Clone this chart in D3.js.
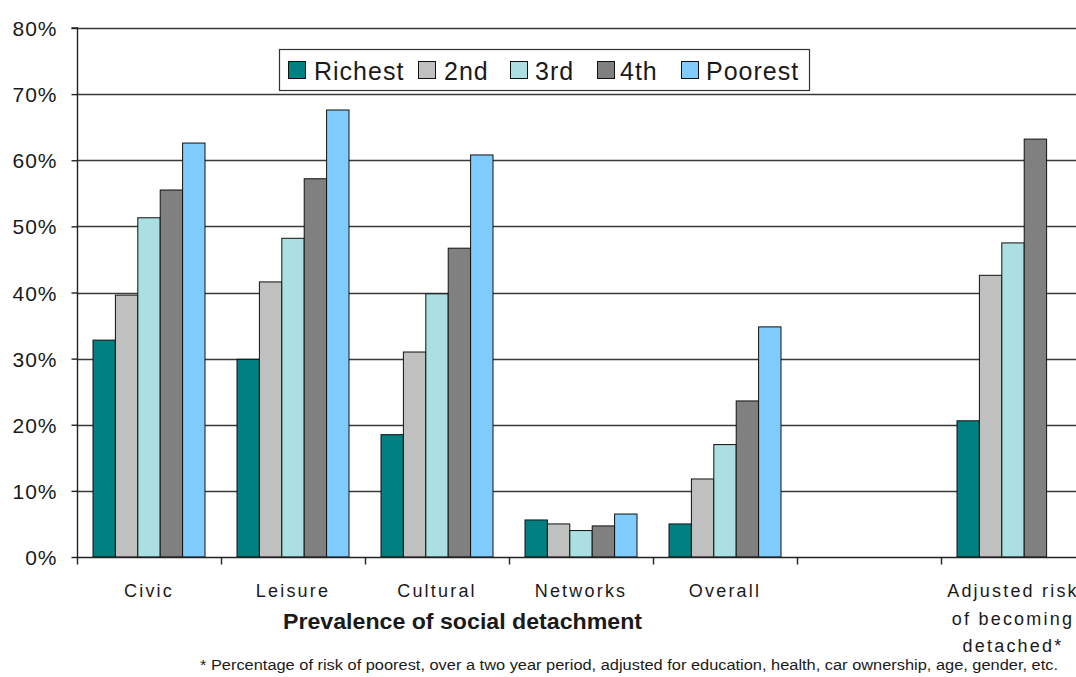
<!DOCTYPE html>
<html>
<head>
<meta charset="utf-8">
<script src="https://cdn.jsdelivr.net/npm/d3@7"></script>
<style>
  html, body { margin: 0; padding: 0; background: #fff; }
  svg { display: block; }
  text { font-family: "Liberation Sans", Arial, sans-serif; fill: #1a1a1a; }
</style>
</head>
<body>
<svg id="chart" width="1076" height="677"></svg>
<script>
// Categories ("|" splits a label over several lines; the blank one is an empty slot)
const categories = ["Civic", "Leisure", "Cultural", "Networks", "Overall", " ", "Adjusted risk|of becoming|detached*"];
const seriesNames = ["Richest", "2nd", "3rd", "4th", "Poorest"];
const seriesColors = ["#008080", "#c0c0c0", "#abdfe1", "#808080", "#80cbff"];

// Percent values per quintile (null = no bar)
const richest = [32.8, 29.9, 18.5, 5.6, 5.0, null, 20.6];
const second  = [39.6, 41.6, 31.0, 5.0, 11.8, null, 42.6];
const third   = [51.3, 48.2, 39.8, 4.0, 17.0, null, 47.5];
const fourth  = [55.5, 57.2, 46.7, 4.7, 23.6, null, 63.2];
const poorest = [62.6, 67.6, 60.8, 6.5, 34.8, null, null];

const yTicks = [0, 10, 20, 30, 40, 50, 60, 70, 80];
const xTitle = "Prevalence of social detachment";
const footnote = "* Percentage of risk of poorest, over  a two year period, adjusted for education, health, car ownership, age, gender, etc.";

const seriesValues = [richest, second, third, fourth, poorest];

const svg = d3.select("#chart");
const plotLeft = 77, plotTop = 28, plotBottom = 557;
const bandW = 144;

const x = d3.scaleBand()
  .domain(categories)
  .range([plotLeft, plotLeft + bandW * categories.length])
  .paddingInner(0).paddingOuter(0);

const xInner = d3.scaleBand()
  .domain(seriesNames)
  .range([16, bandW - 16])
  .padding(0);

const y = d3.scaleLinear().domain([0, 80]).range([plotBottom, plotTop]);

// Gridlines
svg.append("g")
  .selectAll("line")
  .data(yTicks.filter(d => d > 0))
  .join("line")
  .attr("x1", plotLeft).attr("x2", 1076)
  .attr("y1", d => Math.round(y(d)) + 0.5).attr("y2", d => Math.round(y(d)) + 0.5)
  .attr("stroke", "#3a3a3a").attr("stroke-width", 1.4);

// Bars
const barData = [];
categories.forEach((c, i) => {
  seriesNames.forEach((s, j) => {
    const v = seriesValues[j][i];
    if (v != null) barData.push({ c, s, v, color: seriesColors[j] });
  });
});

svg.append("g")
  .selectAll("rect")
  .data(barData)
  .join("rect")
  .attr("x", d => x(d.c) + xInner(d.s))
  .attr("y", d => y(d.v))
  .attr("width", xInner.bandwidth())
  .attr("height", d => y(0) - y(d.v))
  .attr("fill", d => d.color)
  .attr("stroke", "#111")
  .attr("stroke-width", 1);

// Y axis
const yAxis = d3.axisLeft(y)
  .tickValues(yTicks)
  .tickSize(6)
  .tickFormat(d => d + "%");
const yg = svg.append("g")
  .attr("transform", `translate(${plotLeft + 0.5},0)`)
  .call(yAxis);
yg.select(".domain").attr("stroke", "#222").attr("stroke-width", 1.4).attr("d", `M-6,${plotTop}H0V${plotBottom}`);
yg.selectAll(".tick line").attr("stroke", "#222").attr("stroke-width", 1.4);
yg.selectAll(".tick text")
  .attr("x", -20)
  .attr("dy", "0.36em")
  .style("font-size", "21px")
  .style("letter-spacing", "1px")
  .style("font-family", "Liberation Sans, Arial, sans-serif")
  .attr("fill", "#1a1a1a");

// X axis with ticks at category boundaries
const xAxis = d3.axisBottom(x).tickSize(0).tickFormat("");
const xg = svg.append("g")
  .attr("transform", `translate(0,${plotBottom + 0.5})`)
  .call(xAxis);
xg.select(".domain").attr("stroke", "#222").attr("stroke-width", 1.4).attr("d", `M${plotLeft},0H1076`);
xg.append("g")
  .selectAll("line")
  .data(d3.range(categories.length + 1))
  .join("line")
  .attr("x1", i => plotLeft + i * bandW + 0.5).attr("x2", i => plotLeft + i * bandW + 0.5)
  .attr("y1", 0).attr("y2", 7)
  .attr("stroke", "#222").attr("stroke-width", 1.4);

// Category labels
const catLabels = svg.append("g");
categories.forEach(c => {
  const lines = c.split("|");
  const t = catLabels.append("text")
    .attr("text-anchor", "middle")
    .style("font-size", "18px")
    .style("letter-spacing", "2.2px");
  lines.forEach((ln, k) => {
    t.append("tspan")
      .attr("x", x(c) + x.bandwidth() / 2)
      .attr("y", 597 + k * 27.5)
      .text(ln);
  });
});

// Axis title
svg.append("text")
  .attr("x", 283).attr("y", 629)
  .attr("textLength", 359).attr("lengthAdjust", "spacingAndGlyphs")
  .style("font-size", "22px").style("font-weight", "bold")
  .attr("fill", "#111")
  .text(xTitle);

// Footnote
svg.append("text")
  .attr("x", 200).attr("y", 670)
  .attr("textLength", 858).attr("lengthAdjust", "spacingAndGlyphs")
  .style("font-size", "14px")
  .text(footnote);

// Legend
const legend = svg.append("g");
legend.append("rect")
  .attr("x", 279.5).attr("y", 49.5).attr("width", 530).attr("height", 41)
  .attr("fill", "#fff").attr("stroke", "#333").attr("stroke-width", 1.2);
const swatchX = [288, 418, 510, 597, 681];
const labelX = [314, 444, 535, 620, 706];
seriesNames.forEach((s, j) => {
  legend.append("rect")
    .attr("x", swatchX[j] + 0.5).attr("y", 61.5)
    .attr("width", 17).attr("height", 17)
    .attr("fill", seriesColors[j]).attr("stroke", "#111").attr("stroke-width", 1);
  legend.append("text")
    .attr("x", labelX[j]).attr("y", 80)
    .style("font-size", "25px")
    .style("letter-spacing", "1px")
    .text(s);
});
</script>
</body>
</html>
